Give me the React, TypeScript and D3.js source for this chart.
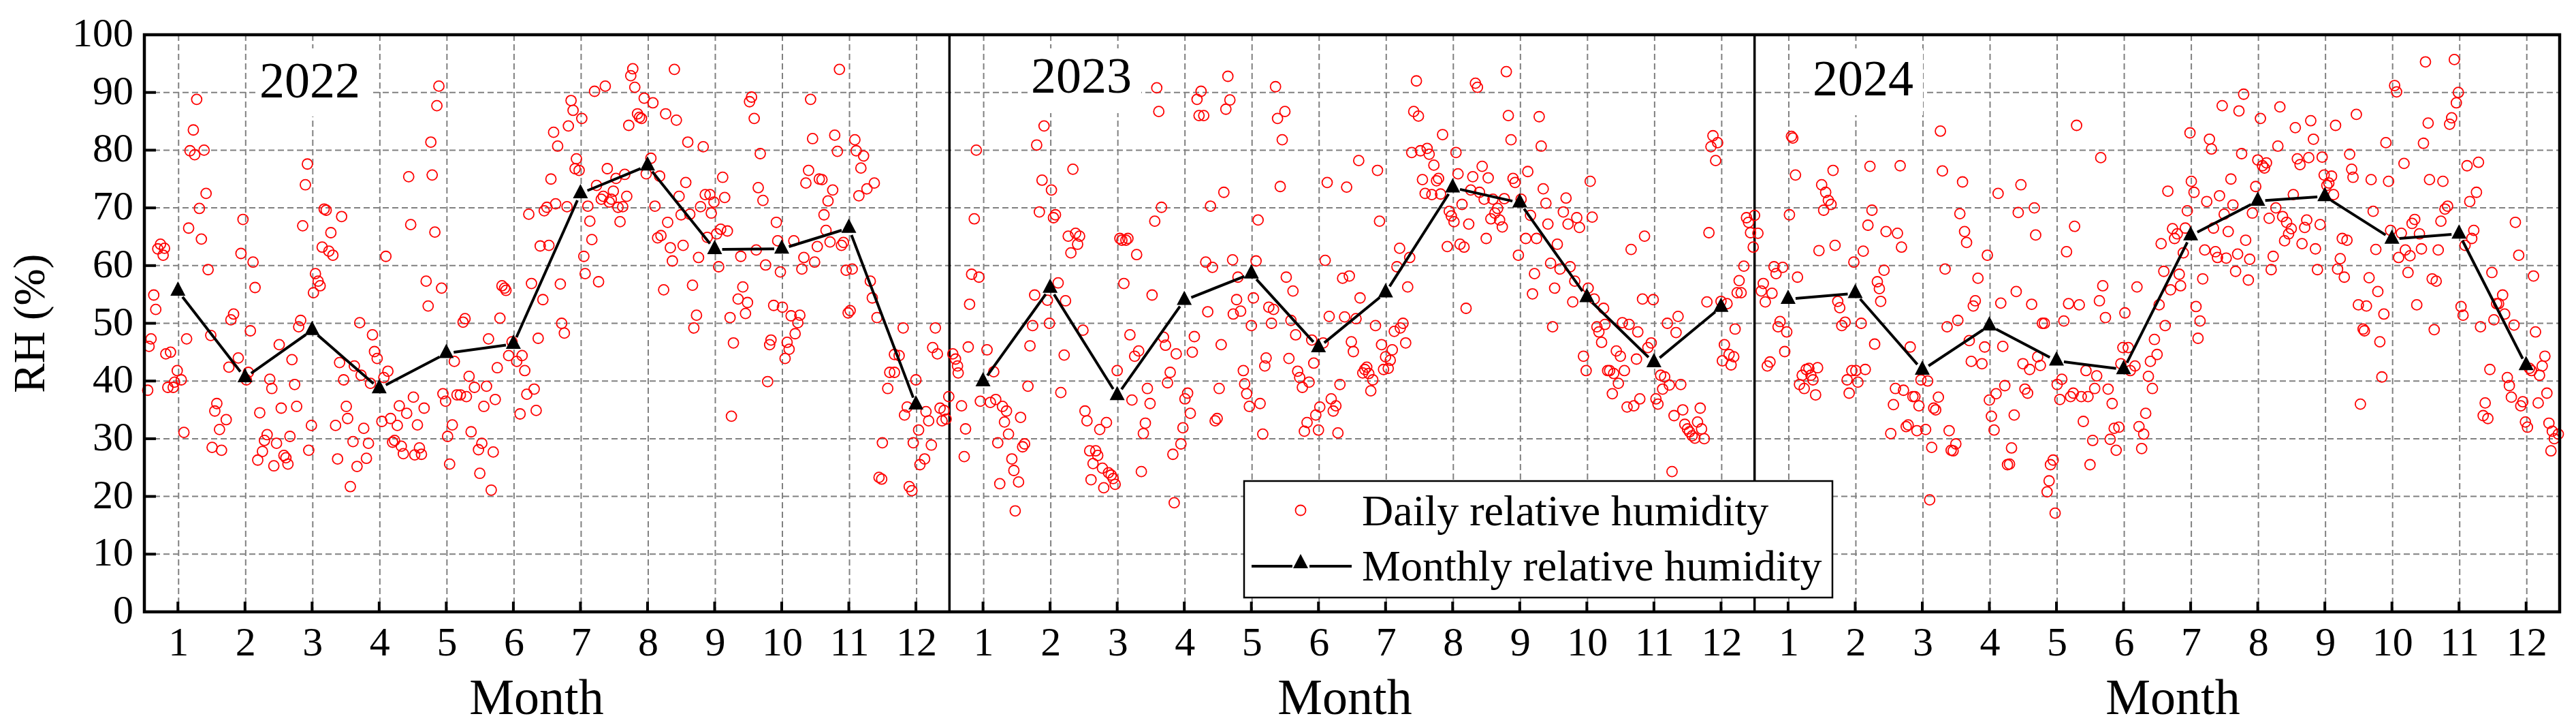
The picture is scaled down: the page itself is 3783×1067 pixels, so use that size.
import React from "react";
import * as d3 from "d3";

const W = 3783, H = 1067;
const months = [1,2,3,4,5,6,7,8,9,10,11,12];
const rhTicks = [0,10,20,30,40,50,60,70,80,90,100];
const years = ["2022","2023","2024"];
const monthly2022 = [55.6,40.6,48.8,38.7,44.8,46.4,72.5,77.3,62.8,62.9,66.5,35.9];
const monthly2023 = [39.9,56.1,37.5,54,58.6,45.8,55.3,73.5,70.9,54.5,43.2,52.8];
const monthly2024 = [54.2,55.2,41.9,49.6,43.5,42,65.2,71.2,72,64.6,65.5,42.7];

const daily2022: number[][] = [[.55,38.4],[.57,46],[.6,47.3],[.64,54.9],[.67,52.4],[.7,62.9],[.74,63.7],[.78,61.8],[.8,63],[.82,44.7],[.89,45],[.85,38.9],[.93,38.9],[.95,39.8],[.99,41.8],[1.05,40.2],[1.09,31.1],[1.13,47.3],[1.16,66.5],[1.18,79.9],[1.23,83.5],[1.25,79.2],[1.28,88.8],[1.32,69.9],[1.35,64.6],[1.39,80],[1.42,72.5],[1.45,59.3],[1.49,47.9],[1.51,28.5],[1.55,34.8],[1.58,36.1],[1.62,31.6],[1.65,28],[1.72,33.3],[1.76,42.4],[1.79,50.6],[1.83,51.6],[1.9,44],[1.94,62.1],[1.97,68],[2.02,40.2],[2.05,41.5],[2.08,48.7],[2.12,60.6],[2.15,56.2],[2.19,26.3],[2.22,34.5],[2.26,27.8],[2.29,29.7],[2.33,30.7],[2.37,40.3],[2.4,38.7],[2.43,25.3],[2.47,29.2],[2.51,46.3],[2.54,35.3],[2.58,27.1],[2.61,26.7],[2.64,25.6],[2.67,30.4],[2.7,43.7],[2.74,39.4],[2.77,35.6],[2.8,49.4],[2.83,50.5],[2.86,66.9],[2.9,74],[2.93,77.6],[2.95,28],[2.99,32.3],[3.02,55.3],[3.05,58.6],[3.09,57.3],[3.12,56.5],[3.15,63.2],[3.18,69.8],[3.21,69.6],[3.25,62.5],[3.28,65.7],[3.31,61.8],[3.35,32.3],[3.38,26.5],[3.41,43.2],[3.44,68.5],[3.47,40.2],[3.51,35.6],[3.53,33.5],[3.57,21.7],[3.61,29.5],[3.63,42.6],[3.67,25.2],[3.71,50.1],[3.73,41],[3.77,31.8],[3.81,26.6],[3.84,29.2],[3.87,39.6],[3.9,48],[3.93,45.1],[3.97,43.9],[4.04,33],[4.07,40.6],[4.1,61.6],[4.13,41.7],[4.17,33.5],[4.2,29.4],[4.23,29.7],[4.27,32.3],[4.3,35.7],[4.33,28.7],[4.36,27.4],[4.41,34.4],[4.44,75.4],[4.47,67.1],[4.51,37.2],[4.53,27.2],[4.57,32.4],[4.6,28.4],[4.63,27.3],[4.67,35.3],[4.7,57.3],[4.73,53],[4.77,81.4],[4.79,75.7],[4.83,65.8],[4.86,87.7],[4.89,91.1],[4.93,56.1],[4.95,37.8],[4.99,36.5],[5.02,30.4],[5.05,25.6],[5.09,32.4],[5.12,43.4],[5.16,37.6],[5.21,37.6],[5.25,50.2],[5.28,50.8],[5.3,37.3],[5.34,40.8],[5.37,31.2],[5.42,38.9],[5.48,28.1],[5.5,24],[5.53,29.2],[5.56,35.6],[5.6,39.1],[5.63,47.3],[5.67,21.1],[5.7,27.7],[5.73,36.8],[5.76,42.3],[5.8,50.9],[5.83,56.5],[5.87,56.1],[5.89,55.7],[5.93,44.4],[5.98,46.8],[6.05,43.4],[6.1,34.3],[6.13,44.4],[6.17,41.8],[6.2,37.7],[6.23,68.9],[6.27,56.9],[6.31,38.6],[6.34,34.9],[6.37,47.4],[6.4,63.4],[6.44,54.1],[6.46,69.5],[6.5,70.1],[6.53,63.5],[6.56,75],[6.6,83.1],[6.63,70.7],[6.66,80.7],[6.7,56.8],[6.72,50],[6.76,48.3],[6.8,70.2],[6.82,84.2],[6.86,88.6],[6.89,86.9],[6.92,76.8],[6.94,78.5],[6.98,76.5],[7.02,85.5],[7.05,61.6],[7.07,58.6],[7.11,70.3],[7.14,67.7],[7.17,64.5],[7.21,90.2],[7.24,73.9],[7.27,57.2],[7.31,71.5],[7.34,72],[7.37,91.1],[7.4,76.8],[7.43,71],[7.46,71.5],[7.49,72.9],[7.53,75.1],[7.56,70.1],[7.59,67.6],[7.63,70.2],[7.66,75.8],[7.69,72],[7.72,84.3],[7.75,92.9],[7.78,94.1],[7.81,90.9],[7.85,86.3],[7.88,85.7],[7.91,85.5],[7.95,89],[7.98,75.9],[8.05,78.6],[8.08,88.2],[8.11,70.3],[8.15,64.8],[8.18,75.5],[8.2,65.2],[8.24,55.8],[8.27,86.3],[8.3,67.5],[8.34,63.1],[8.37,60.8],[8.4,94],[8.43,85.2],[8.47,72],[8.5,68.8],[8.53,63.5],[8.57,74.4],[8.6,81.4],[8.63,68.9],[8.67,56.6],[8.69,49.2],[8.73,51.4],[8.76,61.4],[8.79,70.2],[8.83,80.6],[8.86,72.3],[8.89,64.9],[8.93,72.3],[8.95,69.1],[8.99,71],[9.03,65.5],[9.06,59.8],[9.09,66.3],[9.12,75.3],[9.15,71.8],[9.19,66],[9.23,51],[9.25,33.9],[9.28,46.6],[9.35,54.2],[9.39,61.6],[9.42,56.3],[9.46,51.7],[9.49,53.6],[9.52,88.4],[9.55,89.2],[9.59,85.5],[9.62,62.7],[9.65,73.5],[9.68,79.4],[9.72,71.3],[9.76,60.1],[9.79,39.9],[9.82,46.3],[9.84,47.1],[9.88,53.1],[9.92,67.5],[9.94,64.3],[9.98,58.9],[10.01,52.8],[10.05,43.9],[10.08,46.7],[10.11,45.5],[10.14,51.3],[10.18,64.3],[10.2,48.2],[10.24,50.1],[10.27,51.4],[10.3,59.4],[10.33,61.4],[10.36,74.3],[10.4,76.5],[10.43,88.8],[10.46,82],[10.49,60.6],[10.53,63.3],[10.56,75],[10.6,74.9],[10.63,68.8],[10.66,66.1],[10.69,71.2],[10.72,64.1],[10.76,73.1],[10.79,82.6],[10.83,79.8],[10.86,94],[10.89,63.5],[10.92,64],[10.96,59.2],[10.99,51.8],[11.02,52.2],[11.05,59.4],[11.09,81.8],[11.11,79.9],[11.15,72.1],[11.18,76.9],[11.22,79],[11.27,73.3],[11.32,57.3],[11.35,54.4],[11.38,74.3],[11.42,51],[11.45,23.3],[11.49,23],[11.5,29.3],[11.58,38.7],[11.61,41.5],[11.68,41.5],[11.68,44.6],[11.75,44.4],[11.81,49.2],[11.83,34.1],[11.87,35.5],[11.9,21.7],[11.94,21],[11.96,29.3],[12,40.2],[12.04,31.5],[12.06,25.5],[12.13,26.5],[12.15,34.7],[12.19,33.1],[12.23,28.9],[12.25,45.8],[12.29,49.2],[12.32,44.7],[12.36,35.3],[12.39,33.1],[12.42,34.9],[12.45,33.4],[12.49,37.3]];

const daily2023: number[][] = [[.55,44.7],[.59,43.8],[.62,42.6],[.63,41.4],[.68,35.7],[.72,26.9],[.74,31.7],[.78,45.9],[.8,53.3],[.83,58.5],[.87,68.1],[.9,80],[.94,58],[.96,36.5],[1.06,45.4],[1.11,36.3],[1.16,41.6],[1.19,36.8],[1.22,29.3],[1.25,22.2],[1.29,35.6],[1.32,32.9],[1.35,34.8],[1.38,30.8],[1.43,26.5],[1.46,24.5],[1.48,17.5],[1.53,22.5],[1.56,33.7],[1.59,28.6],[1.62,29.1],[1.67,39.1],[1.7,46.1],[1.74,49.6],[1.77,54.9],[1.8,80.9],[1.84,69.3],[1.88,74.8],[1.91,84.2],[1.96,54],[1.99,50],[2.02,73.1],[2.05,68.3],[2.08,68.8],[2.12,57],[2.16,38],[2.21,44.5],[2.23,53.9],[2.27,65.1],[2.31,62.2],[2.34,76.7],[2.38,65.6],[2.41,63.7],[2.44,65.1],[2.49,48.8],[2.52,34.8],[2.55,33.1],[2.59,27.9],[2.61,22.9],[2.64,25.7],[2.68,27.9],[2.71,27.1],[2.74,31.6],[2.78,24.9],[2.8,21.5],[2.84,32.8],[2.87,24.1],[2.91,23.7],[2.94,23.1],[2.97,22.1],[3,41.8],[3.04,64.7],[3.07,64.4],[3.1,56.9],[3.13,64.4],[3.16,64.7],[3.19,48],[3.22,36.7],[3.26,44.3],[3.29,61.9],[3.32,45.2],[3.36,24.3],[3.39,30.9],[3.42,32.7],[3.45,38.7],[3.49,36.1],[3.52,54.9],[3.56,67.7],[3.59,90.8],[3.62,86.7],[3.66,70.1],[3.69,47.6],[3.72,46.2],[3.75,39.7],[3.79,41.5],[3.83,27.3],[3.85,18.9],[3.88,44.7],[3.95,29.1],[3.98,31.9],[4.01,36.9],[4.05,37.9],[4.09,34.4],[4.12,45],[4.15,47.7],[4.19,88.8],[4.22,86],[4.25,90.2],[4.29,86],[4.32,60.6],[4.35,52],[4.39,70.3],[4.42,59.7],[4.46,33.1],[4.49,33.5],[4.52,38.7],[4.55,46.3],[4.59,72.7],[4.62,87.1],[4.65,92.8],[4.68,88.7],[4.72,61],[4.73,51.6],[4.78,54.1],[4.8,58],[4.84,52.1],[4.88,41.8],[4.9,39.5],[4.93,37.8],[4.97,35.6],[5,49.6],[5.03,54.4],[5.07,60.8],[5.1,67.9],[5.13,36.1],[5.17,30.8],[5.2,42.6],[5.22,44],[5.26,52.8],[5.3,50],[5.33,52.4],[5.36,91],[5.39,85.5],[5.43,73.7],[5.46,81.8],[5.5,86.7],[5.52,58],[5.56,43.9],[5.59,50.5],[5.62,55.6],[5.66,48],[5.69,41.7],[5.72,40.6],[5.76,38.9],[5.79,31.3],[5.83,32.8],[5.86,39.8],[5.9,47.1],[5.93,43.1],[5.96,34.1],[6,31.5],[6.02,35.5],[6.07,46.6],[6.1,60.9],[6.13,74.4],[6.16,51.2],[6.19,36.9],[6.22,34.8],[6.26,35.7],[6.29,31],[6.32,39.4],[6.36,57.8],[6.39,51.1],[6.42,73.6],[6.46,58.2],[6.49,46.8],[6.52,45.1],[6.56,50.8],[6.6,78.2],[6.62,54.4],[6.66,41.4],[6.69,42],[6.72,42.4],[6.75,41.3],[6.78,38.3],[6.81,40.2],[6.85,49.6],[6.88,76.5],[6.91,67.7],[6.94,46.3],[6.97,42],[7,44.2],[7.04,42.2],[7.07,43.6],[7.1,45.4],[7.13,48.6],[7.17,59.8],[7.21,63],[7.22,49.2],[7.26,50],[7.3,46.6],[7.33,56.3],[7.36,61.4],[7.39,79.6],[7.42,86.7],[7.46,92],[7.49,85.9],[7.52,79.9],[7.55,74.9],[7.59,72.5],[7.62,80.3],[7.65,79.3],[7.69,72.3],[7.72,77.4],[7.76,74.7],[7.79,75.1],[7.82,72.4],[7.85,82.7],[7.92,63.3],[7.95,69.4],[7.98,68.6],[8.02,67.6],[8.05,79.6],[8.08,75.9],[8.11,63.7],[8.14,70.6],[8.17,63.2],[8.2,52.6],[8.24,67.2],[8.27,73.1],[8.3,75.4],[8.34,91.6],[8.37,90.9],[8.4,72.7],[8.44,77.2],[8.47,71.5],[8.5,64.7],[8.53,75.2],[8.57,68.1],[8.6,71.5],[8.63,69.1],[8.67,69.9],[8.7,67.9],[8.74,66.7],[8.77,71.6],[8.8,93.6],[8.83,86],[8.87,81.8],[8.9,75.1],[8.93,74.4],[8.98,61.8],[9.02,71.5],[9.09,64.7],[9.12,76.3],[9.16,68.7],[9.19,55.1],[9.22,58.6],[9.25,64.7],[9.29,85.8],[9.32,80.7],[9.35,73.3],[9.39,70.8],[9.42,67.2],[9.46,60.4],[9.49,49.4],[9.52,56.1],[9.56,63.7],[9.6,59.4],[9.65,69.3],[9.69,71.7],[9.72,67.2],[9.75,59.8],[9.79,53.7],[9.82,57.3],[9.85,68.3],[9.89,66.6],[9.95,44.3],[9.99,41.8],[10.02,56.1],[10.05,74.6],[10.08,68.4],[10.11,54.2],[10.15,49.4],[10.18,48.5],[10.22,46.7],[10.25,52.6],[10.27,49.8],[10.31,41.8],[10.34,41.8],[10.38,37.8],[10.4,41.3],[10.44,45.2],[10.47,39.6],[10.5,44.3],[10.53,50.1],[10.56,41.8],[10.6,35.5],[10.63,49.8],[10.66,62.8],[10.7,35.7],[10.74,43.8],[10.76,48.5],[10.79,36.9],[10.83,54.2],[10.86,65.1],[10.91,45.8],[10.96,46.6],[10.99,54.1],[11.03,36.9],[11.06,36],[11.1,41],[11.13,38.6],[11.16,40.7],[11.2,50],[11.23,39.3],[11.27,24.3],[11.3,34],[11.33,48.4],[11.36,51.2],[11.4,39.4],[11.43,35],[11.46,32.5],[11.5,31.7],[11.53,31.2],[11.57,30.5],[11.61,30.1],[11.65,32.9],[11.69,35.3],[11.71,31.7],[11.75,30],[11.79,53.7],[11.82,65.7],[11.85,80.6],[11.88,82.5],[11.92,78.2],[11.95,81.3],[12,53.8],[12.02,43.5],[12.05,46.3],[12.09,53.4],[12.12,44.6],[12.15,42.8],[12.19,44.2],[12.21,49],[12.24,55.3],[12.27,57.4],[12.3,55.3],[12.34,59.9],[12.38,68.3],[12.41,67.5],[12.44,65.7],[12.48,63.2],[12.5,68.7]];

const daily2024: number[][] = [[.55,65.6],[.6,55.6],[.63,56.9],[.66,53.7],[.69,42.6],[.73,43.3],[.76,55.2],[.79,59.8],[.82,58.6],[.85,49.4],[.88,50.3],[.92,59.7],[.95,45.1],[.98,48.5],[1.02,68.8],[1.05,82.4],[1.07,82.1],[1.11,75.7],[1.14,58],[1.17,39.4],[1.21,41],[1.24,38.7],[1.27,42],[1.31,42.2],[1.34,41],[1.37,40.2],[1.41,37.6],[1.44,42.3],[1.46,62.6],[1.5,74],[1.53,69.6],[1.56,72.7],[1.6,71.3],[1.64,70.6],[1.67,76.5],[1.7,63.5],[1.74,53.8],[1.77,52.7],[1.8,49.6],[1.85,50.2],[1.88,40.2],[1.91,37.9],[1.95,41.8],[1.98,60.6],[2.01,41.8],[2.04,39.8],[2.09,50],[2.12,62.5],[2.15,42],[2.19,67],[2.22,77.2],[2.25,69.6],[2.29,46.4],[2.33,57.2],[2.36,56],[2.38,53.8],[2.43,59.2],[2.46,65.9],[2.53,30.9],[2.57,35.9],[2.6,38.7],[2.63,65.6],[2.67,77.3],[2.69,63.2],[2.72,38.4],[2.76,32.1],[2.79,32.4],[2.82,45.9],[2.86,37.3],[2.89,37.3],[2.92,31.4],[2.95,35.7],[2.98,40.2],[3.05,31.6],[3.08,40],[3.11,19.4],[3.14,28.5],[3.17,35.3],[3.2,35],[3.24,37.2],[3.27,83.3],[3.3,76.4],[3.34,59.4],[3.37,49.4],[3.4,31.4],[3.43,28],[3.46,27.9],[3.5,29.1],[3.53,50.5],[3.56,69],[3.6,74.5],[3.63,65.9],[3.66,64],[3.7,47],[3.73,43.4],[3.76,53],[3.79,53.9],[3.83,57.8],[3.89,43],[3.93,45.9],[3.97,61.8],[4,36.7],[4.03,33.9],[4.07,31.5],[4.1,37.8],[4.13,72.5],[4.17,53.5],[4.2,46],[4.23,39.2],[4.27,25.5],[4.3,25.6],[4.33,28.4],[4.37,34.1],[4.4,55.5],[4.43,69.2],[4.47,74],[4.5,43],[4.53,38.6],[4.57,37.9],[4.6,42],[4.63,53.3],[4.67,70],[4.69,65.3],[4.72,44.2],[4.76,42.7],[4.79,50],[4.82,50],[4.86,20.8],[4.89,22.7],[4.91,25.5],[4.95,26.3],[4.98,17.1],[5.01,39.4],[5.05,36.8],[5.08,40.3],[5.11,50.4],[5.15,62.4],[5.18,53.4],[5.21,37.3],[5.25,37.9],[5.27,66.8],[5.3,84.3],[5.34,53.2],[5.37,37.3],[5.4,33],[5.44,41.8],[5.47,37.3],[5.5,25.5],[5.54,29.7],[5.57,38.7],[5.6,40.9],[5.64,53.9],[5.66,78.7],[5.69,56.5],[5.73,51],[5.77,38.6],[5.8,29.9],[5.83,36.1],[5.86,31.8],[5.89,28],[5.93,32],[5.96,43],[5.99,45.8],[6.02,51.8],[6.07,45.8],[6.1,41.8],[6.17,42.6],[6.2,56.3],[6.23,32.1],[6.27,28.3],[6.3,30.8],[6.33,34.4],[6.37,40.8],[6.4,43.4],[6.43,38.7],[6.46,47.2],[6.5,44.6],[6.53,53.2],[6.56,63.8],[6.6,59],[6.62,49.6],[6.66,72.9],[6.7,55.8],[6.73,66.4],[6.76,64.7],[6.8,65.5],[6.83,58.5],[6.85,56.5],[6.89,62.2],[6.92,66.5],[6.95,69.5],[6.99,83],[7.01,74.6],[7.05,72.7],[7.08,52.9],[7.11,47.4],[7.14,50.4],[7.18,57.7],[7.21,62.7],[7.24,71.1],[7.28,81.9],[7.31,80.2],[7.34,66.5],[7.37,62.4],[7.4,61.4],[7.43,72.1],[7.47,87.7],[7.5,68.9],[7.53,61.3],[7.56,65.9],[7.6,75],[7.63,70.5],[7.67,59],[7.7,62],[7.72,86.8],[7.76,79.4],[7.79,89.7],[7.82,64.4],[7.86,57.5],[7.88,61.1],[7.92,69.1],[7.97,73.7],[8,78.3],[8.04,85.5],[8.07,77.3],[8.1,76.9],[8.13,77.8],[8.17,68.2],[8.2,59.3],[8.23,61.6],[8.27,70],[8.3,80.7],[8.33,87.5],[8.37,68.5],[8.4,64.3],[8.43,67.5],[8.46,65.5],[8.5,66.4],[8.53,72.3],[8.56,83.9],[8.59,78.5],[8.63,77.5],[8.66,63.8],[8.7,66.6],[8.73,67.9],[8.76,78.7],[8.79,85.1],[8.83,81.9],[8.86,62.9],[8.89,59.3],[8.93,67.1],[8.96,78.8],[8.99,75.7],[9.03,73.9],[9.06,74.3],[9.1,75.5],[9.13,72.3],[9.16,84.3],[9.19,59.4],[9.23,61.2],[9.26,64.7],[9.29,58],[9.33,64.4],[9.37,79.3],[9.4,76.7],[9.42,75.3],[9.47,86.2],[9.5,53.2],[9.53,36],[9.57,49],[9.59,48.7],[9.62,53],[9.66,57.9],[9.69,74.9],[9.72,69.4],[9.76,62.8],[9.79,55.5],[9.82,46.8],[9.85,40.7],[9.88,51.6],[9.91,81.3],[9.95,74.6],[9.98,66.1],[10.04,91.2],[10.07,90.1],[10.1,61.4],[10.14,65.6],[10.18,77.7],[10.2,62.7],[10.24,58.8],[10.27,61.7],[10.3,67.3],[10.34,68],[10.37,53.2],[10.41,65.5],[10.44,62.9],[10.47,81.2],[10.5,95.3],[10.54,84.7],[10.56,74.9],[10.6,57.7],[10.63,48.9],[10.66,57.3],[10.69,62.7],[10.73,67.7],[10.76,74.6],[10.79,69.8],[10.83,70.3],[10.86,84.5],[10.89,85.6],[10.93,95.7],[10.96,88.2],[10.99,90],[11.03,52.9],[11.06,51.4],[11.09,63.5],[11.12,77.3],[11.16,71.1],[11.19,64.7],[11.22,66.1],[11.26,72.7],[11.29,77.9],[11.32,49.4],[11.36,34],[11.39,36.2],[11.43,33.5],[11.46,42],[11.49,58.8],[11.52,50.6],[11.56,53.4],[11.59,53.4],[11.65,54.9],[11.68,51.6],[11.72,40.6],[11.75,39.2],[11.78,37.2],[11.82,49.7],[11.84,67.5],[11.89,61.8],[11.92,35.7],[11.95,36.4],[11.99,32.9],[12.02,32],[12.05,42.2],[12.08,41.8],[12.11,58.2],[12.14,48.5],[12.18,36.2],[12.2,41],[12.24,42.6],[12.28,44.3],[12.31,37.9],[12.34,32.7],[12.37,27.9],[12.39,31.3],[12.42,30],[12.48,30.8]];

const font = '"Liberation Serif", "Times New Roman", serif';
const left = 212, right = 3759, top = 51, bottom = 898;
const panelW = (right - left) / 3;
const y = d3.scaleLinear().domain([0, 100]).range([bottom, top]);
const xScales = years.map((_, i) =>
  d3.scaleLinear().domain([0.5, 12.5]).range([left + i * panelW, left + (i + 1) * panelW])
);
const dailies = [daily2022, daily2023, daily2024];
const monthlies = [monthly2022, monthly2023, monthly2024];
const yearLabels = [
  { text: years[0], cx: 455, base: 143, bx: 377, bw: 166, by: 71, bh: 100 },
  { text: years[1], cx: 1588, base: 136, bx: 1510, bw: 166, by: 71, bh: 95 },
  { text: years[2], cx: 2736, base: 140, bx: 2658, bw: 166, by: 71, bh: 98 },
];
const monthTitleX = [788, 1975, 3191];
const triPath = d3.symbol(d3.symbolTriangle, 210)() as string;
const GAP = 11;

function Triangle({ cx, cy }: { cx: number; cy: number }) {
  return <path d={triPath} transform={`translate(${cx},${cy}) scale(1,1.1)`} fill="#000" />;
}

function segments(xs: d3.ScaleLinear<number, number>, vals: number[]) {
  const lineGen = d3.line<number[]>().x(d => d[0]).y(d => d[1]);
  return d3.pairs(vals.map((v, i) => [xs(months[i]), y(v)])).map(([a, b]) => {
    const dx = b[0] - a[0], dy = b[1] - a[1];
    const len = Math.hypot(dx, dy), ux = dx / len, uy = dy / len;
    return lineGen([[a[0] + ux * GAP, a[1] + uy * GAP], [b[0] - ux * GAP, b[1] - uy * GAP]]) as string;
  });
}

export default function App() {
  return (
    <svg width={W} height={H} viewBox={`0 0 ${W} ${H}`}
      style={{ position: "absolute", left: 0, top: 0, display: "block", background: "#fff" }}
      fontFamily={font} fill="#000">
      {/* grid */}
      <g stroke="#808080" strokeWidth={2} strokeDasharray="9 5" fill="none">
        {rhTicks.filter(t => t > 0 && t < 100).map(t => (
          <line key={t} x1={left} x2={right} y1={y(t)} y2={y(t)} />
        ))}
        {xScales.map((xs, p) => months.map(m => (
          <line key={`${p}-${m}`} x1={xs(m) + 1} x2={xs(m) + 1} y1={top} y2={bottom} />
        )))}
      </g>
      {yearLabels.map(l => (
        <rect key={l.text} x={l.bx} y={l.by} width={l.bw} height={l.bh} fill="#fff" />
      ))}
      {/* panel dividers */}
      {[xScales[1], xScales[2]].map((xs, i) => (
        <line key={i} x1={xs(0.5)} x2={xs(0.5)} y1={top} y2={bottom} stroke="#000" strokeWidth={3.5} />
      ))}
      {/* daily */}
      <g fill="none" stroke="#ff0000" strokeWidth={1.8}>
        {dailies.map((pts, p) => pts.map((d, i) => (
          <circle key={`${p}-${i}`} cx={xScales[p](d[0])} cy={y(d[1])} r={7.5} />
        )))}
      </g>
      {/* monthly */}
      {monthlies.map((vals, p) => (
        <g key={p}>
          {segments(xScales[p], vals).map((d, i) => (
            <path key={i} d={d} fill="none" stroke="#000" strokeWidth={4} />
          ))}
          {vals.map((v, i) => <Triangle key={i} cx={xScales[p](months[i])} cy={y(v)} />)}
        </g>
      ))}
      {/* frame */}
      <rect x={left} y={top} width={right - left} height={bottom - top} fill="none" stroke="#000" strokeWidth={4.5} />
      {/* y axis */}
      {rhTicks.map(t => (
        <g key={t}>
          {t > 0 && t < 100 && <line x1={left} x2={left + 17} y1={y(t)} y2={y(t)} stroke="#000" strokeWidth={4} />}
          <text x={196} y={y(t) + 17} textAnchor="end" fontSize={60}>{t}</text>
        </g>
      ))}
      <text transform={`translate(65,${(550 + 845) / 2 / 1.4695}) rotate(-90)`} textAnchor="middle" fontSize={65}>RH (%)</text>
      {/* x axis */}
      {xScales.map((xs, p) => (
        <g key={p}>
          {months.map(m => (
            <g key={m}>
              <line x1={xs(m)} x2={xs(m)} y1={bottom} y2={bottom - 15} stroke="#000" strokeWidth={4} />
              <text x={xs(m) + 1} y={962} textAnchor="middle" fontSize={60}>{m}</text>
            </g>
          ))}
          <text x={monthTitleX[p]} y={1048} textAnchor="middle" fontSize={74}>Month</text>
        </g>
      ))}
      {/* year labels */}
      {yearLabels.map(l => (
        <text key={l.text} x={l.cx} y={l.base} textAnchor="middle" fontSize={74}>{l.text}</text>
      ))}
      {/* legend */}
      <rect x={1827} y={706} width={864} height={171} fill="#fff" stroke="#000" strokeWidth={2.5} />
      <circle cx={1910} cy={749} r={7.5} fill="none" stroke="#ff0000" strokeWidth={1.8} />
      <text x={2000} y={771} fontSize={64}>Daily relative humidity</text>
      <line x1={1838} x2={1898} y1={831} y2={831} stroke="#000" strokeWidth={4} />
      <line x1={1923} x2={1985} y1={831} y2={831} stroke="#000" strokeWidth={4} />
      <Triangle cx={1910} cy={827} />
      <text x={2000} y={852} fontSize={64}>Monthly relative humidity</text>
    </svg>
  );
}
